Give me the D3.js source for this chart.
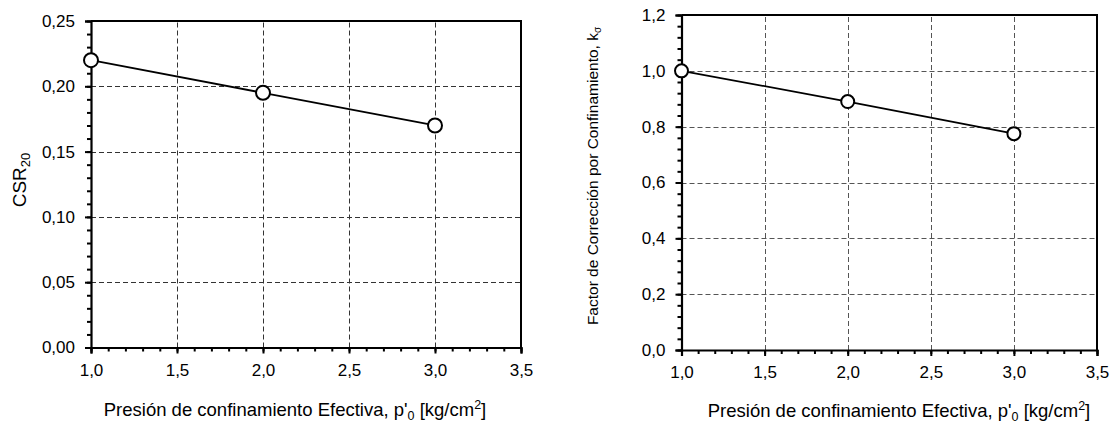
<!DOCTYPE html>
<html><head><meta charset="utf-8">
<script src="https://cdn.jsdelivr.net/npm/d3@7"></script>
<style>
body{margin:0;background:#fff;}
svg{display:block;font-family:"Liberation Sans",Arial,sans-serif;}
</style></head>
<body><svg id="c" width="1112" height="425"></svg>
<script>
// Data
const pressure = [1.0, 2.0, 3.0];
const csr20 = [0.22, 0.195, 0.17];
const kSigma = [1.0, 0.89, 0.775];
const xTicks = [1.0, 1.5, 2.0, 2.5, 3.0, 3.5];
const yTicksLeft = [0.00, 0.05, 0.10, 0.15, 0.20, 0.25];
const yTicksRight = [0.0, 0.2, 0.4, 0.6, 0.8, 1.0, 1.2];
const xLabel = "Presión de confinamiento Efectiva, p'";

const svg = d3.select("#c");
const comma = (f) => (v) => d3.format(f)(v).replace(".", ",");

function panel(cfg){
  const g = svg.append("g");
  const x = d3.scaleLinear().domain([1, 3.5]).range(cfg.xr);
  const y = d3.scaleLinear().domain(cfg.yd).range(cfg.yr);
  const [x0,x1] = cfg.xr, [y0,y1] = cfg.yr;
  // grid
  g.append("g").selectAll("line").data(xTicks.slice(1,-1)).join("line")
    .attr("x1", d=>Math.round(x(d))+0.5).attr("x2", d=>Math.round(x(d))+0.5)
    .attr("y1", y0).attr("y2", y1)
    .attr("stroke", cfg.grid).attr("stroke-width",1).attr("stroke-dasharray","5,3");
  g.append("g").selectAll("line").data(cfg.yt.slice(1,-1)).join("line")
    .attr("y1", d=>Math.round(y(d))+0.5).attr("y2", d=>Math.round(y(d))+0.5)
    .attr("x1", x0).attr("x2", x1)
    .attr("stroke", cfg.grid).attr("stroke-width",1).attr("stroke-dasharray","5,3");
  // frame top/right
  g.append("path").attr("d", `M${x0},${y1}H${x1}V${y0}`)
    .attr("fill","none").attr("stroke","#000").attr("stroke-width",2);
  // minor ticks
  const xMinor = d3.range(1, 3.5001, 0.1);
  const yMinor = d3.range(cfg.yd[0], cfg.yd[1]+1e-9, cfg.ymin);
  const xm = g.append("g").attr("transform",`translate(0,${y0})`)
    .call(d3.axisBottom(x).tickValues(xMinor).tickSize(4).tickFormat(""));
  const ym = g.append("g").attr("transform",`translate(${x0},0)`)
    .call(d3.axisLeft(y).tickValues(yMinor).tickSize(4).tickFormat(""));
  // major
  const xa = g.append("g").attr("transform",`translate(0,${y0})`)
    .call(d3.axisBottom(x).tickValues(xTicks).tickSize(6).tickPadding(10).tickFormat(comma(".1f")));
  const ya = g.append("g").attr("transform",`translate(${x0},0)`)
    .call(d3.axisLeft(y).tickValues(cfg.yt).tickSize(6).tickPadding(10).tickFormat(comma(cfg.yf)));
  [xm,ym,xa,ya].forEach(a=>{
    a.selectAll(".domain").attr("stroke","#000").attr("stroke-width",2.2);
    a.selectAll(".tick line").attr("stroke","#000").attr("stroke-width",2);
    a.selectAll("text").attr("font-family","Liberation Sans, Arial, sans-serif")
      .attr("font-size",17).attr("fill","#000");
  });
  xm.select(".domain").remove(); ym.select(".domain").remove();
  // line
  const pts = pressure.map((p,i)=>[p, cfg.vals[i]]);
  g.append("path").datum(pts)
    .attr("d", d3.line().x(d=>x(d[0])).y(d=>y(d[1])))
    .attr("fill","none").attr("stroke","#000").attr("stroke-width",1.8);
  g.selectAll("circle.pt").data(pts).join("circle").attr("class","pt")
    .attr("cx", d=>x(d[0])).attr("cy", d=>y(d[1])).attr("r", cfg.r)
    .attr("fill","#fff").attr("stroke","#000").attr("stroke-width",2);
  // x label
  const t = g.append("text").attr("x", cfg.xlx).attr("y", cfg.xly)
    .attr("text-anchor","middle").attr("font-size",18.5).attr("fill","#000");
  t.append("tspan").text(xLabel);
  t.append("tspan").attr("font-size",12.5).attr("dy",4).text("0");
  t.append("tspan").attr("dy",-4).text(" [kg/cm");
  t.append("tspan").attr("font-size",12.5).attr("dy",-7).text("2");
  t.append("tspan").attr("dy",7).text("]");
  return {g,x,y};
}

const L = panel({xr:[91,521], yr:[347.5,21], yd:[0,0.25], yt:yTicksLeft, ymin:0.01, yf:".2f",
  vals:csr20, grid:"#333", r:7, xlx:295, xly:416});
const R = panel({xr:[681.5,1097], yr:[350,15], yd:[0,1.2], yt:yTicksRight, ymin:0.04, yf:".1f",
  vals:kSigma, grid:"#555", r:6.5, xlx:899, xly:417});

// y labels
const yl = svg.append("text").attr("transform","translate(26,180) rotate(-90)")
  .attr("text-anchor","middle").attr("font-size",19).attr("fill","#000");
yl.append("tspan").text("CSR");
yl.append("tspan").attr("font-size",13).attr("dy",4).text("20");

const yr = svg.append("text").attr("transform","translate(598,176) rotate(-90)")
  .attr("text-anchor","middle").attr("font-size",15.5).attr("fill","#000");
yr.append("tspan").text("Factor de Corrección por Confinamiento, k");
yr.append("tspan").attr("font-size",10).attr("dy",3).text("σ");
</script></body></html>
